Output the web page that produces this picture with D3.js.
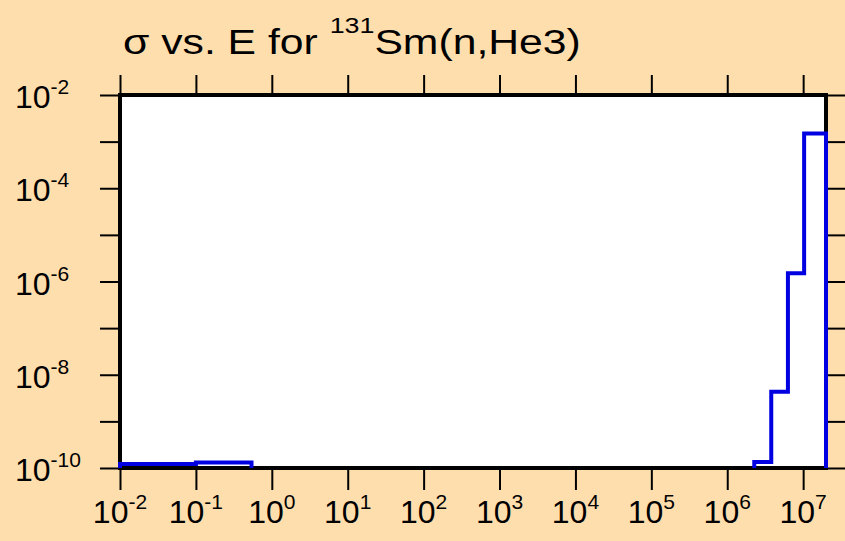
<!DOCTYPE html>
<html>
<head>
<meta charset="utf-8">
<script src="https://cdn.jsdelivr.net/npm/d3@7"></script>
<style>
html,body{margin:0;padding:0;background:#FFDEAD;}
svg{display:block;font-family:"Liberation Sans",Arial,sans-serif;}
</style>
</head>
<body>
<svg id="chart" width="845" height="541"></svg>
<script>
// Data: histogram bin edges (eV) and cross sections (b)
const lowEdges = [1e-2, 1e-1, 0.54];
const lowValues = [1.22e-10, 1.32e-10];
const highEdges = [2.27e6, 3.8e6, 6.3e6, 1.03e7, 2e7];
const highValues = [1.35e-10, 4.3e-9, 1.5e-6, 1.5e-3];
const xTickExps = [-2, -1, 0, 1, 2, 3, 4, 5, 6, 7];
const yTickExps = [-10, -9, -8, -7, -6, -5, -4, -3, -2];
const yLabelExps = [-10, -8, -6, -4, -2];
const titleMain = "σ vs. E for ";
const titleSup = "131";
const titleRest = "Sm(n,He3)";

const svg = d3.select("#chart");
const L = 120, R = 826, T = 95, B = 468;
const x = d3.scaleLog().domain([1e-2, 2e7]).range([L, R]);
const y = d3.scaleLog().domain([1e-10, 1e-2]).range([B, T]);
const yMin = 1e-10;

svg.append("rect").attr("width", 845).attr("height", 541).attr("fill", "#FFDEAD");
svg.append("rect").attr("x", L).attr("y", T).attr("width", R - L).attr("height", B - T).attr("fill", "#fff");

function styleAxis(g) {
  g.select(".domain").remove();
  g.selectAll(".tick line").attr("stroke", "#000").attr("stroke-width", 2);
  g.selectAll(".tick text").remove();
}
const xVals = xTickExps.map(e => Math.pow(10, e));
const yVals = yTickExps.map(e => Math.pow(10, e));
svg.append("g").attr("transform", `translate(0,${B})`)
  .call(d3.axisBottom(x).tickValues(xVals).tickSize(22).tickSizeOuter(0).tickFormat(""))
  .call(styleAxis);
svg.append("g").attr("transform", `translate(0,${T})`)
  .call(d3.axisTop(x).tickValues(xVals).tickSize(20).tickSizeOuter(0).tickFormat(""))
  .call(styleAxis);
svg.append("g").attr("transform", `translate(${L},0)`)
  .call(d3.axisLeft(y).tickValues(yVals).tickSize(20).tickSizeOuter(0).tickFormat(""))
  .call(styleAxis);
svg.append("g").attr("transform", `translate(${R},0)`)
  .call(d3.axisRight(y).tickValues(yVals).tickSize(20).tickSizeOuter(0).tickFormat(""))
  .call(styleAxis);

svg.append("rect").attr("x", L).attr("y", T).attr("width", R - L).attr("height", B - T)
  .attr("fill", "none").attr("stroke", "#000").attr("stroke-width", 4);

function stepPath(edges, vals) {
  const pts = [[edges[0], yMin]];
  vals.forEach((v, i) => { pts.push([edges[i], v]); pts.push([edges[i + 1], v]); });
  pts.push([edges[edges.length - 1], yMin]);
  return d3.line().x(d => x(d[0])).y(d => y(d[1]))(pts);
}
[[lowEdges, lowValues], [highEdges, highValues]].forEach(([e, v]) => {
  svg.append("path").attr("d", stepPath(e, v)).attr("fill", "none")
    .attr("stroke", "#0000e0").attr("stroke-width", 4).attr("stroke-linejoin", "miter");
});

xTickExps.forEach(e => {
  const t = svg.append("text").attr("x", x(Math.pow(10, e))).attr("y", 523)
    .attr("text-anchor", "middle").attr("font-size", 32).attr("fill", "#000");
  t.append("tspan").text("10");
  t.append("tspan").attr("font-size", 21).attr("dy", -14).text(String(e));
});
yLabelExps.forEach(e => {
  const t = svg.append("text").attr("x", 15).attr("y", y(Math.pow(10, e)) + 13)
    .attr("text-anchor", "start").attr("font-size", 32).attr("fill", "#000");
  t.append("tspan").text("10");
  t.append("tspan").attr("font-size", 21).attr("dy", -14).text(String(e));
});

const title = svg.append("text").attr("transform", "translate(123,54) scale(1.22,1)")
  .attr("font-size", 35).attr("fill", "#000");
title.append("tspan").text(titleMain);
title.append("tspan").attr("font-size", 22).attr("dy", -21).text(titleSup);
title.append("tspan").attr("dy", 21).text(titleRest);
</script>
</body>
</html>
